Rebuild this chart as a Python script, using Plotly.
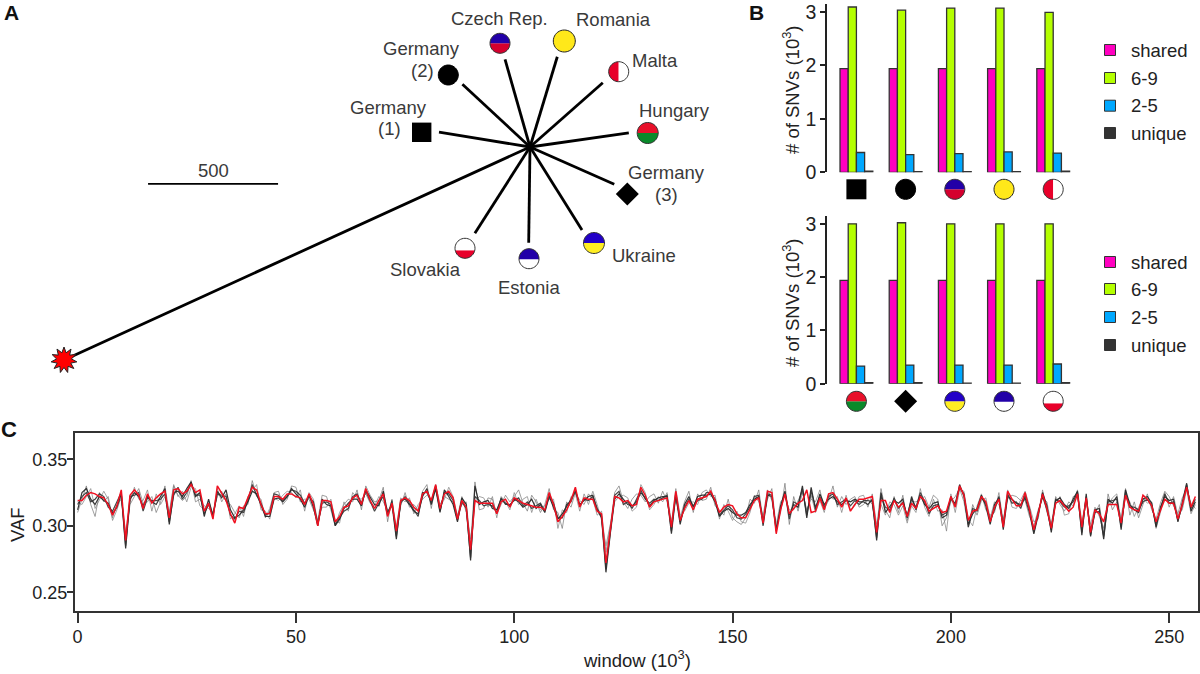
import math
import plotly.graph_objects as go

W, H = 1200, 674
FONT = "Liberation Sans, Arial, sans-serif"
TXT = "#2b2b2b"

# ---------- Panel C: VAF per window, in thousandths ----------
vaf_red = [
 319,319,323,325,324,322,321,316,308,315, 327,289,323,327,323,313,324,317,321,324,
 326,306,327,328,324,326,331,325,327,311, 317,305,330,324,319,309,302,314,313,321,
 329,327,316,309,309,322,322,320,324,324, 322,321,316,324,316,300,319,319,318,303,
 307,314,315,321,323,316,328,319,313,319, 324,307,317,296,319,321,319,314,311,324,
 326,319,331,313,324,326,321,305,319,314, 282,319,317,317,317,317,309,318,320,314,
 321,319,317,316,315,314,314,312,325,316, 303,307,312,319,329,314,321,320,320,311,
 309,272,297,322,321,318,319,315,316,329, 323,314,318,319,320,321,299,326,304,313,
 319,312,320,321,322,326,319,310,314,316, 315,309,306,306,313,319,321,302,326,325,
 294,312,324,309,313,317,319,327,310,311, 321,312,324,325,320,314,321,311,316,320,
 320,321,322,295,319,319,310,319,314,317, 307,317,313,322,319,311,313,315,310,311,
 322,314,330,323,304,311,312,322,318,303, 314,320,299,326,320,315,315,325,312,297,
 309,324,313,298,317,319,315,311,314,324, 299,321,295,312,309,303,316,316,316,302,
 323,314,312,311,323,320,315,303,311,320, 317,317,305,316,329,314,322]
vaf_dark_a = [
 312,325,328,320,316,322,319,317,309,314, 324,283,320,325,322,315,322,318,316,322,
 328,301,325,326,322,328,333,322,325,307, 320,307,326,321,327,312,306,308,312,318,
 326,324,315,307,307,320,321,318,322,328, 324,320,314,323,314,300,320,316,315,300,
 305,313,317,320,320,315,327,321,316,315, 326,310,316,290,319,320,316,311,309,322,
 328,316,328,310,327,322,316,303,321,316, 274,330,316,318,319,313,312,320,317,315,
 320,318,314,316,320,313,316,310,322,314, 305,309,314,320,326,316,319,322,323,312,
 306,265,294,320,324,320,316,315,318,325, 321,315,319,321,322,322,294,323,301,316,
 322,314,322,323,323,324,318,307,311,313, 310,308,308,310,316,320,322,300,323,322,
 296,315,326,308,316,314,330,306,329,312, 324,316,320,322,318,316,319,318,320,318,
 318,316,320,289,325,310,315,319,317,320, 306,322,312,323,316,313,317,318,306,308,
 322,315,331,322,301,309,313,323,315,301, 316,321,297,322,320,317,316,321,310,294,
 308,325,315,295,319,321,316,313,320,326, 293,324,292,312,313,290,320,317,322,297,
 327,316,312,310,320,322,317,299,314,322, 319,320,303,317,332,311,318]
vaf_dark_b = [
 316,322,325,318,320,324,322,314,311,318, 325,285,322,323,325,311,321,319,319,320,
 324,303,323,329,320,325,332,323,323,309, 316,308,324,323,322,308,305,311,310,319,
 331,323,317,308,310,324,323,319,322,327, 326,323,317,322,318,301,317,318,316,301,
 306,311,313,322,324,317,326,319,311,317, 322,308,319,292,317,322,317,313,307,325,
 325,318,330,311,325,324,319,304,318,313, 276,322,319,315,316,315,310,321,316,316,
 319,321,315,318,313,315,317,311,323,317, 306,306,316,318,327,315,320,319,322,313,
 307,268,295,323,326,316,318,313,320,327, 320,317,320,319,321,323,296,325,303,314,
 320,315,319,320,325,325,320,308,312,315, 312,306,305,309,314,322,323,303,324,323,
 297,313,325,305,318,316,328,308,326,314, 322,314,322,324,316,318,320,315,319,316,
 319,319,318,291,322,314,312,321,313,318, 308,320,314,325,318,309,315,316,308,310,
 320,317,329,324,299,313,311,321,317,304, 312,322,300,324,317,318,313,323,313,295,
 310,322,312,297,320,318,314,315,318,325, 295,322,293,310,311,292,318,319,320,299,
 325,314,314,312,318,320,315,301,312,324, 317,318,304,315,331,313,320]
vaf_gray_a = [
 310,320,330,316,307,325,318,322,306,316, 320,292,316,322,328,317,318,322,310,318,
 330,309,330,323,319,322,334,318,320,315, 313,310,322,326,318,316,310,306,315,316,
 334,322,320,306,313,325,326,316,320,330, 329,318,320,320,312,304,323,322,312,300,
 310,316,320,318,327,312,330,323,318,319, 329,303,320,298,315,325,314,316,312,326,
 331,313,331,316,322,320,318,308,316,318, 286,333,312,313,321,320,309,316,323,318,
 322,327,317,311,323,318,310,316,328,312, 310,298,318,314,325,319,316,324,320,308,
 311,280,300,325,330,318,313,320,324,323, 318,322,324,317,326,318,303,320,306,318,
 326,310,324,319,320,329,315,312,308,320, 306,303,301,306,320,317,327,304,320,328,
 299,310,332,301,322,311,325,312,320,318, 327,313,319,330,314,322,316,320,322,314,
 316,320,316,298,328,312,306,322,310,323, 304,318,318,320,322,314,323,320,300,306,
 318,322,328,318,299,316,308,319,321,306, 318,316,305,320,323,322,319,319,307,300,
 312,321,318,300,322,316,311,318,315,327, 303,320,298,309,316,295,324,312,318,306,
 328,308,318,306,316,324,312,305,317,326, 322,315,309,321,328,317,313]
vaf_gray_b = [
 318,316,322,328,313,319,326,320,304,312, 322,295,318,329,320,319,327,311,324,316,
 322,310,331,322,326,318,329,328,315,312, 319,309,328,318,324,305,309,315,307,322,
 327,331,312,311,305,321,319,323,326,325, 321,327,311,325,320,303,314,314,320,304,
 302,318,311,325,321,320,324,317,315,322, 318,312,314,299,321,318,321,309,316,320,
 323,320,327,314,320,329,322,307,322,310, 290,318,322,321,314,322,306,322,318,312,
 325,316,320,322,310,320,312,315,320,320, 298,312,310,322,324,311,324,316,326,316,
 304,285,301,318,322,323,321,311,314,331, 325,312,316,322,318,325,302,328,308,311,
 317,318,316,325,327,322,323,305,316,311, 304,311,303,302,310,323,318,308,327,319,
 301,318,322,312,312,319,326,310,323,310, 319,310,324,320,322,310,323,312,315,322,
 323,314,324,301,316,308,318,316,308,315, 302,315,310,328,314,307,320,311,312,296,
 324,310,327,326,305,300,315,324,312,308, 310,325,303,327,314,313,320,326,315,303,
 305,327,310,302,316,322,308,309,322,323, 300,318,301,314,307,298,315,321,324,303,
 322,318,307,314,321,317,318,298,310,325, 314,322,308,312,327,309,316]

# ---------- Panel B: number of SNVs (thousands) ----------
groups = [0, 1, 2, 3, 4]
classes = ["shared", "6-9", "2-5", "unique"]
class_colors = ["#ff00c0", "#b4ff00", "#00a8ff", "#333333"]
top_values = [
 [1.94, 1.94, 1.94, 1.94, 1.94],
 [3.09, 3.03, 3.07, 3.07, 2.99],
 [0.37, 0.33, 0.35, 0.38, 0.36],
 [0.02, 0.01, 0.01, 0.01, 0.02]]
bottom_values = [
 [1.94, 1.94, 1.94, 1.94, 1.94],
 [3.00, 3.02, 3.00, 3.00, 3.00],
 [0.33, 0.35, 0.35, 0.35, 0.37],
 [0.02, 0.02, 0.01, 0.01, 0.02]]

# ---------- Panel A: tree tips, in tree units from the hub ----------
tip_names = ["Germany 1", "Germany 2", "Czech Rep.", "Romania", "Malta", "Hungary",
             "Germany 3", "Ukraine", "Estonia", "Slovakia", "outgroup"]
tip_dx = [-350, -260, -96, 105, 280, 380, 324, 200, -5, -212, -1792]
tip_dy = [57, 241, 337, 347, 247, 54, -143, -319, -368, -332, -819]
scale_len = 500
PX_PER_UNIT = 0.26
HUB = (530, 147)

flags = {
 "G1": ("square", "#000000", None),
 "G2": ("circle", "#000000", None),
 "CZ": ("h", "#2200a8", "#d4002e", 0.0),
 "RO": ("circle", "#ffe81a", None),
 "MT": ("v", "#e8002a", "#ffffff", 0.0),
 "HU": ("h", "#e8102a", "#0a8a2a", 0.0),
 "G3": ("diamond", "#000000", None),
 "UA": ("h", "#2200c8", "#ffee22", 0.0),
 "EE": ("h", "#2200a8", "#ffffff", 0.05),
 "SK": ("h", "#ffffff", "#e8002a", 0.2),
}
tree_marks = [("G1",421.7,132.3,9.7),("G2",448.3,75,10),("CZ",500,43.3,10),("RO",564.3,41,11),
              ("MT",618.7,71.7,10),("HU",647.7,133,10.5),("G3",627.3,194,11.5),("UA",594,243,10.5),
              ("EE",529,258.7,10),("SK",465,248.3,10)]
row_top = ["G1", "G2", "CZ", "RO", "MT"]
row_bottom = ["HU", "G3", "UA", "EE", "SK"]

labels = [("Germany",421,48),("(2)",422,70),("Germany",388,107),("(1)",389,128),
          ("Germany",666,172),("(3)",666,194),("Czech Rep.",499,18),("Romania",613,19),
          ("Malta",655,60),("Hungary",674,110),("Ukraine",644,255),("Estonia",529,287),
          ("Slovakia",425,269)]

fig = go.Figure()

# Panel C traces
window = list(range(len(vaf_red)))
for series, col, wd in [(vaf_gray_a, "rgba(120,120,120,0.8)", 0.9),
                        (vaf_gray_b, "rgba(130,130,130,0.8)", 0.9),
                        (vaf_dark_a, "rgba(30,30,30,0.9)", 1.2),
                        (vaf_dark_b, "rgba(50,50,50,0.9)", 1.2),
                        (vaf_red, "#f01020", 1.5)]:
    fig.add_trace(go.Scatter(x=window, y=[v / 1000 for v in series], mode="lines",
                             line=dict(color=col, width=wd), xaxis="x", yaxis="y",
                             showlegend=False, hoverinfo="skip"))

# Panel B traces
for values, xa, ya in [(top_values, "x2", "y2"), (bottom_values, "x3", "y3")]:
    for name, col, vals in zip(classes, class_colors, values):
        fig.add_trace(go.Bar(x=groups, y=vals, name=name, xaxis=xa, yaxis=ya,
                             marker=dict(color=col, line=dict(color="#333333", width=1.3)),
                             showlegend=False))

# Panel A tree
for dx, dy in zip(tip_dx, tip_dy):
    fig.add_trace(go.Scatter(x=[0, dx], y=[0, dy], mode="lines", xaxis="x4", yaxis="y4",
                             line=dict(color="#000000", width=2.8), showlegend=False))
SCALE_X, SCALE_Y = -1469, -142
fig.add_trace(go.Scatter(x=[SCALE_X, SCALE_X + scale_len], y=[SCALE_Y, SCALE_Y], mode="lines",
                         xaxis="x4", yaxis="y4", line=dict(color="#000000", width=1.8),
                         showlegend=False))

# legend swatches on the page overlay
LEG_X, LEG_T = 1110, 1129
leg_top = [50, 78, 105.7, 133]
leg_bot = [262, 289, 317, 345]
for ys in (leg_top, leg_bot):
    fig.add_trace(go.Scatter(x=[LEG_X] * 4, y=ys, mode="markers", xaxis="x5", yaxis="y5",
                             marker=dict(symbol="square", size=11, color=class_colors,
                                         line=dict(color="#333333", width=1)),
                             showlegend=False))

# glyph shapes
def poly(points):
    return "M " + " L ".join(f"{x:.2f},{y:.2f}" for x, y in points) + " Z"

def arc(cx, cy, r, a0, a1, n=40):
    return [(cx + r * math.cos(a0 + (a1 - a0) * i / n), cy + r * math.sin(a0 + (a1 - a0) * i / n))
            for i in range(n + 1)]

shapes = []
def add_path(points, fill, line="#333333", w=1.0):
    shapes.append(dict(type="path", path=poly(points), xref="x5", yref="y5", fillcolor=fill,
                       line=dict(color=line, width=w), layer="above"))

def glyph(key, cx, cy, r):
    f = flags[key]
    kind = f[0]
    if kind == "square":
        add_path([(cx-r,cy-r),(cx+r,cy-r),(cx+r,cy+r),(cx-r,cy+r)], f[1], "#000000", 0)
    elif kind == "diamond":
        add_path([(cx,cy-r),(cx+r,cy),(cx,cy+r),(cx-r,cy)], f[1], "#000000", 0)
    elif kind == "circle":
        add_path(arc(cx, cy, r, 0, 2*math.pi), f[1], "#222222" if f[1] != "#000000" else "#000000", 1)
    elif kind == "h":
        s = math.asin(f[3])
        add_path(arc(cx, cy, r, s, math.pi - s), f[2], "rgba(0,0,0,0)", 0)
        add_path(arc(cx, cy, r, math.pi - s, 2*math.pi + s), f[1], "rgba(0,0,0,0)", 0)
        add_path(arc(cx, cy, r, 0, 2*math.pi), "rgba(0,0,0,0)", "#333333", 1)
    else:
        add_path(arc(cx, cy, r, math.pi/2, 3*math.pi/2), f[1], "rgba(0,0,0,0)", 0)
        add_path(arc(cx, cy, r, -math.pi/2, math.pi/2), f[2], "rgba(0,0,0,0)", 0)
        add_path(arc(cx, cy, r, 0, 2*math.pi), "rgba(0,0,0,0)", "#333333", 1)

for key, cx, cy, r in tree_marks:
    glyph(key, cx, cy, r)
for row, y in [(row_top, 189.3), (row_bottom, 401.3)]:
    for i, key in enumerate(row):
        glyph(key, 856.4 + 49.2 * i, y, 10 if key != "G3" else 11.5)

# outgroup star
spikes = 11
star = []
for i in range(spikes * 2):
    rad = 13 if i % 2 == 0 else 7.5
    a = -math.pi / 2 + math.pi * i / spikes
    star.append((64 + rad * math.cos(a), 360 + rad * math.sin(a)))
add_path(star, "#ff0000", "#222222", 1)

# text
ann = []
def text(s, x, y, size=18, color=TXT, anchor="center", bold=False, angle=0):
    ann.append(dict(text=f"<b>{s}</b>" if bold else s, x=x, y=y, xref="x5", yref="y5",
                    showarrow=False, xanchor=anchor, yanchor="middle", textangle=angle,
                    font=dict(family=FONT, size=size, color=color)))
for s, x, y in labels:
    text(s, x, y, 18.5, "#3a3a3a")
text("500", 213, 170, 18.5, "#3a3a3a")
text("A", 11, 12, 21, "#111111", bold=True)
text("B", 756, 12, 21, "#111111", bold=True)
text("C", 9, 429, 22, "#111111", bold=True)
for ys in (leg_top, leg_bot):
    for s, y in zip(classes, ys):
        text(s, LEG_T, y, 18.5, "#222222", anchor="left")
text("# of SNVs (10<sup>3</sup>)", 791, 90, 18.5, "#222222", angle=-90)
text("# of SNVs (10<sup>3</sup>)", 791, 303, 18.5, "#222222", angle=-90)
text("VAF", 17, 525, 18.5, "#222222", angle=-90)
text("window (10<sup>3</sup>)", 637, 659, 18.5, "#222222")

tick_font = dict(family=FONT, size=18, color="#222222")
def bar_x(dom):
    return dict(domain=dom, range=[-0.598, 4.443], visible=False, fixedrange=True)
def bar_y(dom, anchor):
    return dict(domain=dom, range=[0, 3.15], anchor=anchor, tickvals=[0, 1, 2, 3],
                showgrid=False, zeroline=False, showline=True, linecolor="#222222", linewidth=1.6,
                ticks="outside", ticklen=5, tickwidth=1.6, tickcolor="#222222",
                tickfont=dict(family=FONT, size=19.5, color="#222222"), fixedrange=True)

tx0 = -HUB[0] / PX_PER_UNIT
ty1 = HUB[1] / PX_PER_UNIT
fig.update_layout(
    width=W, height=H, autosize=False, margin=dict(l=0, r=0, t=0, b=0, pad=0, autoexpand=False),
    paper_bgcolor="white", plot_bgcolor="rgba(0,0,0,0)", showlegend=False,
    barmode="group", bargap=1/3, bargroupgap=0, hovermode=False,
    font=dict(family=FONT),
    xaxis=dict(domain=[75/W, 1198/W], range=[-0.6, 256.6], anchor="y",
               tickvals=[0, 50, 100, 150, 200, 250], ticks="outside", ticklen=10, tickwidth=2,
               tickcolor="#333333", tickfont=tick_font, ticklabelstandoff=-2, showgrid=False, zeroline=False,
               showline=True, mirror=True, linecolor="#333333", linewidth=2, fixedrange=True),
    yaxis=dict(domain=[1-611/H, 1-433/H], range=[0.2359, 0.3698], anchor="x",
               tickvals=[0.25, 0.30, 0.35], tickformat=".2f", ticks="outside", ticklen=6, tickwidth=2,
               tickcolor="#333333", tickfont=tick_font, ticklabelstandoff=-4, showgrid=False, zeroline=False,
               showline=True, mirror=True, linecolor="#333333", linewidth=2, fixedrange=True),
    xaxis2=dict(bar_x([827/W, 1075/W]), anchor="y2"),
    yaxis2=bar_y([1-172.3/H, 1-3.8/H], "x2"),
    xaxis3=dict(bar_x([827/W, 1075/W]), anchor="y3"),
    yaxis3=bar_y([1-383.7/H, 1-215.8/H], "x3"),
    xaxis4=dict(domain=[0, 1], range=[tx0, tx0 + W / PX_PER_UNIT], visible=False, anchor="y4", fixedrange=True),
    yaxis4=dict(domain=[0, 1], range=[ty1 - H / PX_PER_UNIT, ty1], visible=False, anchor="x4", fixedrange=True),
    xaxis5=dict(domain=[0, 1], range=[0, W], visible=False, anchor="y5", fixedrange=True),
    yaxis5=dict(domain=[0, 1], range=[H, 0], visible=False, anchor="x5", fixedrange=True),
    shapes=shapes, annotations=ann,
)

fig.write_html("out.html", config=dict(displayModeBar=False),
               post_script="document.body.style.margin='0';")
